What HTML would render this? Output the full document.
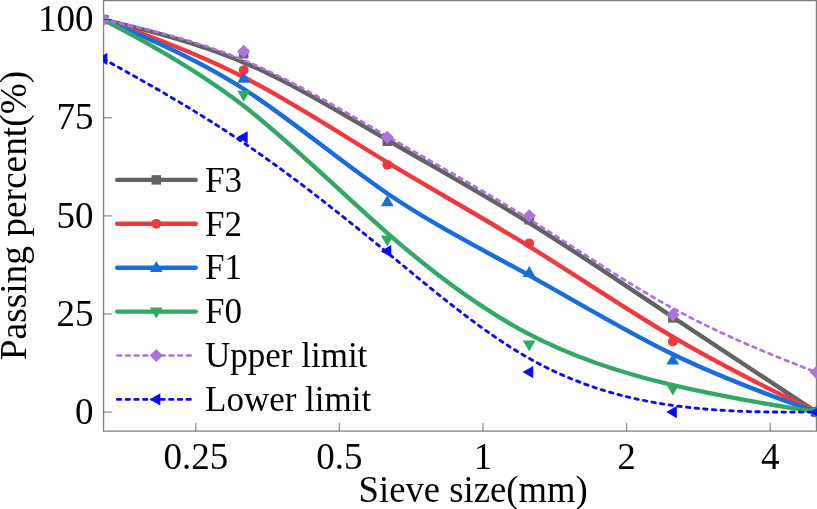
<!DOCTYPE html>
<html><head><meta charset="utf-8"><style>
html,body{margin:0;padding:0;background:#fff;width:817px;height:509px;overflow:hidden}
svg{position:absolute;left:0;top:0;will-change:transform}
text{font-family:"Liberation Serif",serif;fill:#000}
</style></head><body>
<svg width="817" height="509" viewBox="0 0 817 509">
<defs><clipPath id="pc"><rect x="103.1" y="0" width="714" height="431"/></clipPath></defs>

<path d="M103.55 0 V431.8 M102.9 431.1 H817 M816.45 0 V431.8 M103 0.6 H817" fill="none" stroke="#7f7f7f" stroke-width="1.3"/>
<g clip-path="url(#pc)" fill="none" stroke-linejoin="round">
<path d="M103.34 19.6 C103.34 19.6 103.34 19.6 126.73 25.29 C150.12 30.98 196.9 42.37 244.22 62.64 C291.55 82.92 339.41 112.1 387 139.77 C434.6 167.44 481.91 193.61 529.5 223.05 C577.1 252.48 624.96 285.19 672.83 317.25 C720.7 349.3 768.56 380.7 792.5 396.4 C816.43 412.1 816.43 412.1 816.43 412.1" stroke="#626262" stroke-width="4.4" stroke-linecap="round"/>
<rect x="98.59" y="14.85" width="9.5" height="9.5" fill="#626262"/>
<rect x="238.93" y="49" width="9.5" height="9.5" fill="#626262"/>
<rect x="382.53" y="136.53" width="9.5" height="9.5" fill="#626262"/>
<rect x="524.48" y="215.03" width="9.5" height="9.5" fill="#626262"/>
<rect x="668.08" y="313.15" width="9.5" height="9.5" fill="#626262"/>
<rect x="811.68" y="407.35" width="9.5" height="9.5" fill="#626262"/>
<path d="M103.34 19.6 C103.34 19.6 103.34 19.6 126.73 28.01 C150.12 36.41 196.9 53.22 244.22 77.43 C291.55 101.63 339.41 133.23 387 162.11 C434.6 190.99 481.91 217.16 529.5 246.6 C577.1 276.03 624.96 308.74 672.83 336.87 C720.7 365 768.56 388.55 792.5 400.33 C816.43 412.1 816.43 412.1 816.43 412.1" stroke="#ee3a3e" stroke-width="4.4" stroke-linecap="round"/>
<circle cx="103.34" cy="19.6" r="4.9" fill="#ee3a3e"/>
<circle cx="243.68" cy="70.04" r="4.9" fill="#ee3a3e"/>
<circle cx="387.28" cy="164.83" r="4.9" fill="#ee3a3e"/>
<circle cx="529.23" cy="243.33" r="4.9" fill="#ee3a3e"/>
<circle cx="672.83" cy="341.45" r="4.9" fill="#ee3a3e"/>
<circle cx="816.43" cy="412.1" r="4.9" fill="#ee3a3e"/>
<path d="M103.34 19.6 C103.34 19.6 103.34 19.6 126.73 29.41 C150.12 39.23 196.9 58.85 244.22 89.27 C291.55 119.69 339.41 160.9 387 193.28 C434.6 225.66 481.91 249.21 529.5 275.58 C577.1 301.94 624.96 331.11 672.83 354.34 C720.7 377.56 768.56 394.83 792.5 403.47 C816.43 412.1 816.43 412.1 816.43 412.1" stroke="#1a6bdc" stroke-width="4.4" stroke-linecap="round"/>
<polygon points="103.34,12.8 96.94,23.8 109.74,23.8" fill="#1a6bdc"/>
<polygon points="243.68,71.68 237.28,82.68 250.08,82.68" fill="#1a6bdc"/>
<polygon points="387.28,195.31 380.88,206.31 393.68,206.31" fill="#1a6bdc"/>
<polygon points="529.23,265.96 522.83,276.96 535.63,276.96" fill="#1a6bdc"/>
<polygon points="672.83,353.49 666.43,364.49 679.23,364.49" fill="#1a6bdc"/>
<polygon points="816.43,405.3 810.03,416.3 822.83,416.3" fill="#1a6bdc"/>
<path d="M103.34 19.6 C103.34 19.6 103.34 19.6 126.73 32.13 C150.12 44.65 196.9 69.71 244.22 106.34 C291.55 142.98 339.41 191.19 387 232.83 C434.6 274.46 481.91 309.53 529.5 334.38 C577.1 359.24 624.96 373.9 672.83 385.15 C720.7 396.4 768.56 404.25 792.5 408.18 C816.43 412.1 816.43 412.1 816.43 412.1" stroke="#33a866" stroke-width="4.4" stroke-linecap="round"/>
<polygon points="103.34,26.6 96.94,15.6 109.74,15.6" fill="#33a866"/>
<polygon points="243.68,101.76 237.28,90.76 250.08,90.76" fill="#33a866"/>
<polygon points="387.28,246.4 380.88,235.4 393.68,235.4" fill="#33a866"/>
<polygon points="529.23,351.59 522.83,340.59 535.63,340.59" fill="#33a866"/>
<polygon points="672.83,395.55 666.43,384.55 679.23,384.55" fill="#33a866"/>
<polygon points="816.43,419.1 810.03,408.1 822.83,408.1" fill="#33a866"/>
<path d="M103.34 19.6 C103.34 19.6 103.34 19.6 126.73 24.9 C150.12 30.2 196.9 40.8 244.22 60.42 C291.55 80.05 339.41 108.7 387 136.11 C434.6 163.52 481.91 189.68 529.5 219.35 C577.1 249.02 624.96 282.18 672.83 308.28 C720.7 334.38 768.56 353.42 792.5 362.94 C816.43 372.46 816.43 372.46 816.43 372.46" stroke="#ad72dc" stroke-width="2.7" stroke-dasharray="3.7 5.0" stroke-linecap="round"/>
<polygon points="103.34,13 109.94,19.6 103.34,26.2 96.74,19.6" fill="#ad72dc"/>
<polygon points="243.68,44.79 250.28,51.39 243.68,57.99 237.08,51.39" fill="#ad72dc"/>
<polygon points="387.28,130.75 393.88,137.35 387.28,143.95 380.68,137.35" fill="#ad72dc"/>
<polygon points="529.23,209.25 535.83,215.85 529.23,222.45 522.63,215.85" fill="#ad72dc"/>
<polygon points="672.83,308.16 679.43,314.76 672.83,321.36 666.23,314.76" fill="#ad72dc"/>
<polygon points="816.43,365.86 823.03,372.46 816.43,379.06 809.83,372.46" fill="#ad72dc"/>
<path d="M103.34 58.85 C103.34 58.85 103.34 58.85 126.73 71.93 C150.12 85.02 196.9 111.18 244.22 143.24 C291.55 175.29 339.41 213.23 387 252.35 C434.6 291.47 481.91 331.77 529.5 358.59 C577.1 385.41 624.96 398.75 672.83 405.43 C720.7 412.1 768.56 412.1 792.5 412.1 C816.43 412.1 816.43 412.1 816.43 412.1" stroke="#0a0aff" stroke-width="2.9" stroke-dasharray="3.4 5.3" stroke-linecap="round"/>
<polygon points="96.64,58.85 107.34,52.75 107.34,64.95" fill="#0a0aff"/>
<polygon points="236.98,137.35 247.68,131.25 247.68,143.45" fill="#0a0aff"/>
<polygon points="380.58,251.18 391.28,245.08 391.28,257.28" fill="#0a0aff"/>
<polygon points="522.53,372.07 533.23,365.97 533.23,378.17" fill="#0a0aff"/>
<polygon points="666.13,412.1 676.83,406 676.83,418.2" fill="#0a0aff"/>
<polygon points="809.73,412.1 820.43,406 820.43,418.2" fill="#0a0aff"/>
</g>
<line x1="103.5" y1="412.1" x2="112" y2="412.1" stroke="rgba(0,0,0,0.43)" stroke-width="1.3"/>
<line x1="103.5" y1="313.98" x2="112" y2="313.98" stroke="rgba(0,0,0,0.43)" stroke-width="1.3"/>
<line x1="103.5" y1="215.85" x2="112" y2="215.85" stroke="rgba(0,0,0,0.43)" stroke-width="1.3"/>
<line x1="103.5" y1="117.73" x2="112" y2="117.73" stroke="rgba(0,0,0,0.43)" stroke-width="1.3"/>
<line x1="103.5" y1="19.6" x2="112" y2="19.6" stroke="rgba(0,0,0,0.43)" stroke-width="1.3"/>
<line x1="195.8" y1="431" x2="195.8" y2="422.8" stroke="rgba(0,0,0,0.43)" stroke-width="1.3"/>
<line x1="339.4" y1="431" x2="339.4" y2="422.8" stroke="rgba(0,0,0,0.43)" stroke-width="1.3"/>
<line x1="483" y1="431" x2="483" y2="422.8" stroke="rgba(0,0,0,0.43)" stroke-width="1.3"/>
<line x1="626.6" y1="431" x2="626.6" y2="422.8" stroke="rgba(0,0,0,0.43)" stroke-width="1.3"/>
<line x1="770.2" y1="431" x2="770.2" y2="422.8" stroke="rgba(0,0,0,0.43)" stroke-width="1.3"/>
<line x1="117.2" y1="179.9" x2="195.7" y2="179.9" stroke="#626262" stroke-width="4.4" stroke-linecap="round"/>
<rect x="151.55" y="175.15" width="9.5" height="9.5" fill="#626262"/>
<text x="205" y="191.6" font-size="35">F3</text>
<line x1="117.2" y1="223.8" x2="195.7" y2="223.8" stroke="#ee3a3e" stroke-width="4.4" stroke-linecap="round"/>
<circle cx="156.3" cy="223.8" r="4.9" fill="#ee3a3e"/>
<text x="205" y="235.5" font-size="35">F2</text>
<line x1="117.2" y1="267.7" x2="195.7" y2="267.7" stroke="#1a6bdc" stroke-width="4.4" stroke-linecap="round"/>
<polygon points="156.3,260.9 149.9,271.9 162.7,271.9" fill="#1a6bdc"/>
<text x="205" y="279.4" font-size="35">F1</text>
<line x1="117.2" y1="311.6" x2="195.7" y2="311.6" stroke="#33a866" stroke-width="4.4" stroke-linecap="round"/>
<polygon points="156.3,318.6 149.9,307.6 162.7,307.6" fill="#33a866"/>
<text x="205" y="323.3" font-size="35">F0</text>
<line x1="117.4" y1="355.5" x2="191.3" y2="355.5" stroke="#ad72dc" stroke-width="2.7" stroke-dasharray="3.7 5.0" stroke-linecap="round"/>
<polygon points="156.3,348.9 162.9,355.5 156.3,362.1 149.7,355.5" fill="#ad72dc"/>
<text x="205" y="367.2" font-size="35">Upper limit</text>
<line x1="117.4" y1="399.4" x2="191.3" y2="399.4" stroke="#0a0aff" stroke-width="2.9" stroke-dasharray="3.4 5.3" stroke-linecap="round"/>
<polygon points="149.6,399.4 160.3,393.3 160.3,405.5" fill="#0a0aff"/>
<text x="205" y="411.1" font-size="35">Lower limit</text>
<text x="93.5" y="423.8" font-size="37" text-anchor="end">0</text>
<text x="93.5" y="325.68" font-size="37" text-anchor="end">25</text>
<text x="93.5" y="227.55" font-size="37" text-anchor="end">50</text>
<text x="93.5" y="129.43" font-size="37" text-anchor="end">75</text>
<text x="93.5" y="31.3" font-size="37" text-anchor="end">100</text>
<text x="195.8" y="469.3" font-size="37" text-anchor="middle">0.25</text>
<text x="339.4" y="469.3" font-size="37" text-anchor="middle">0.5</text>
<text x="483" y="469.3" font-size="37" text-anchor="middle">1</text>
<text x="626.6" y="469.3" font-size="37" text-anchor="middle">2</text>
<text x="770.2" y="469.3" font-size="37" text-anchor="middle">4</text>
<text transform="translate(473.1 502.0) scale(0.97 1)" font-size="37.8" text-anchor="middle">Sieve size(mm)</text>
<text transform="translate(26.1 215.5) rotate(-90) scale(0.973 1)" font-size="38.4" text-anchor="middle">Passing percent(%)</text>
</svg></body></html>
